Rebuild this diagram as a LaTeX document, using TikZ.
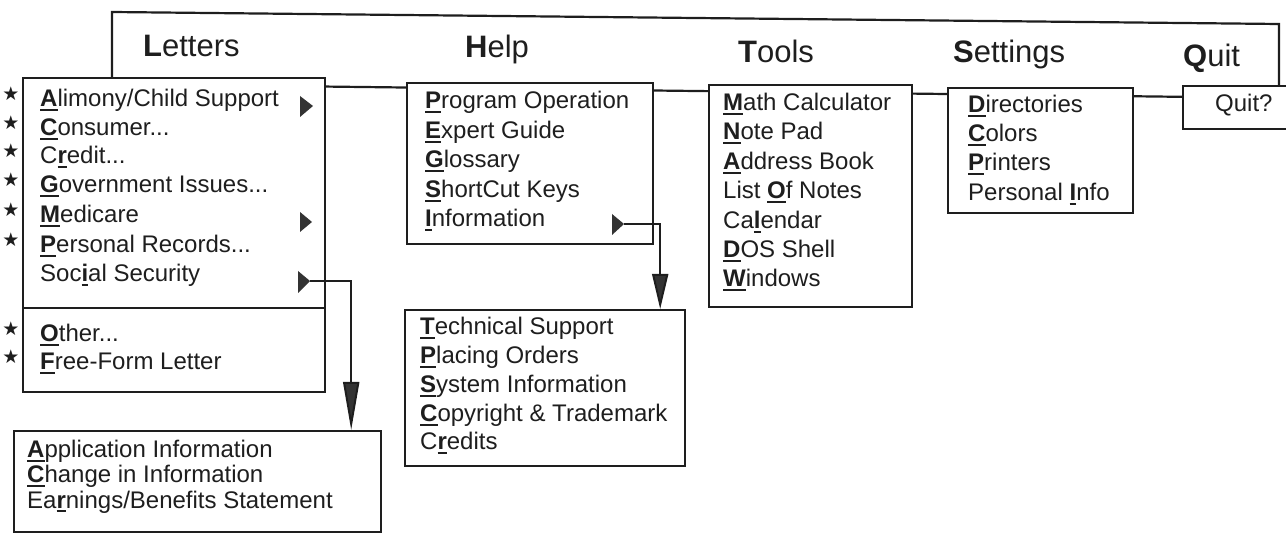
\documentclass[tikz,border=0pt]{standalone}
\usepackage{fontspec}
\setmainfont{Liberation Sans}
\newfontfamily\symfont{DejaVu Sans}
\usetikzlibrary{arrows.meta}
\definecolor{ink}{HTML}{1E1E1E}
\definecolor{mark}{HTML}{333333}
\newcommand\acck[1]{\setbox0\hbox{\textbf{#1}}\rlap{\rule[-4pt]{\wd0}{1.8pt}}\box0}
\tikzset{
  menubox/.style={draw=ink, line width=2.2pt, fill=white, inner sep=0pt, anchor=north west},
  item/.style={anchor=base west, inner sep=0pt, text=ink, font=\fontsize{24}{24}\selectfont},
  hdr/.style={anchor=base west, inner sep=0pt, text=ink, font=\fontsize{31}{31}\selectfont},
  starmark/.style={inner sep=0pt, text=ink, font=\symfont\fontsize{19}{19}\selectfont},
  submark/.style={fill=mark},
  conn/.style={draw=ink, line width=2pt, -{Triangle[length=48pt,width=16pt,fill=mark]}},
  conn2/.style={draw=ink, line width=2pt, -{Triangle[length=35pt,width=16pt,fill=mark]}},
}
\begin{document}
\begin{tikzpicture}[x=1pt,y=-1pt]
\useasboundingbox (0,0) rectangle (1286,534);
% menu bar
\draw[ink, line width=2.2pt, line join=miter] (112,84) -- (112,12) -- (1279,24) -- (1279,98) -- cycle;
\node[hdr] (hL) at (143,57) {\textbf{L}etters};
\node[hdr] (hH) at (465,58) {\textbf{H}elp};
\node[hdr] (hT) at (738,63) {\textbf{T}ools};
\node[hdr] (hS) at (953,63) {\textbf{S}ettings};
\node[hdr] (hQ) at (1183,67) {\textbf{Q}uit};
% Letters menu
\node[menubox, minimum width=302pt, minimum height=314pt] (letters) at (22,77) {};
\draw[ink, line width=2.6pt] (22,308) -- (324,308);
\node[item] (l1) at (40,107) {\acck{A}limony/Child Support};
\node[item] (l2) at (40,136) {\acck{C}onsumer...};
\node[item] (l3) at (40,164) {C\acck{r}edit...};
\node[item] (l4) at (40,193) {\acck{G}overnment Issues...};
\node[item] (l5) at (40,223) {\acck{M}edicare};
\node[item] (l6) at (40,253) {\acck{P}ersonal Records...};
\node[item] (l7) at (40,282) {Soc\acck{i}al Security};
\node[item] (l8) at (40,342) {\acck{O}ther...};
\node[item] (l9) at (40,370) {\acck{F}ree-Form Letter};
\foreach \b/\n in {107/1,136/2,164/3,193/4,223/5,253/6,342/8,370/9}
  \node[starmark] (s\n) at (11,\b-13) {★};
\fill[submark] (300,96) -- (313,106) -- (300,117) -- cycle;
\fill[submark] (300,212) -- (312,222) -- (300,232) -- cycle;
\fill[submark] (298,271) -- (310,281) -- (298,293) -- cycle;
\coordinate (sstip) at (310,281);
% Social Security submenu
\node[menubox, minimum width=367pt, minimum height=101pt] (ssbox) at (13,430) {};
\node[item] (a1) at (27,458) {\acck{A}pplication Information};
\node[item] (a2) at (27,483) {\acck{C}hange in Information};
\node[item] (a3) at (27,508) {Ea\acck{r}nings/Benefits Statement};
\draw[conn] (sstip) -| ([xshift=-31pt]ssbox.north east);
% Help menu
\node[menubox, minimum width=246pt, minimum height=161pt] (help) at (406,82) {};
\node[item] (h1) at (425,109) {\acck{P}rogram Operation};
\node[item] (h2) at (425,139) {\acck{E}xpert Guide};
\node[item] (h3) at (425,168) {\acck{G}lossary};
\node[item] (h4) at (425,198) {\acck{S}hortCut Keys};
\node[item] (h5) at (425,227) {\acck{I}nformation};
\fill[submark] (612,214) -- (624,224) -- (612,235) -- cycle;
\coordinate (infotip) at (624,224);
% Information submenu
\node[menubox, minimum width=280pt, minimum height=156pt] (infobox) at (404,309) {};
\node[item] (i1) at (420,335) {\acck{T}echnical Support};
\node[item] (i2) at (420,364) {\acck{P}lacing Orders};
\node[item] (i3) at (420,393) {\acck{S}ystem Information};
\node[item] (i4) at (420,422) {\acck{C}opyright \& Trademark};
\node[item] (i5) at (420,450) {C\acck{r}edits};
\draw[conn2] (infotip) -| ([xshift=-26pt]infobox.north east);
% Tools menu
\node[menubox, minimum width=203pt, minimum height=222pt] (tools) at (708,84) {};
\node[item] (t1) at (723,111) {\acck{M}ath Calculator};
\node[item] (t2) at (723,140) {\acck{N}ote Pad};
\node[item] (t3) at (723,170) {\acck{A}ddress Book};
\node[item] (t4) at (723,199) {List \acck{O}f Notes};
\node[item] (t5) at (723,229) {Ca\acck{l}endar};
\node[item] (t6) at (723,258) {\acck{D}OS Shell};
\node[item] (t7) at (723,287) {\acck{W}indows};
% Settings menu
\node[menubox, minimum width=185pt, minimum height=125pt] (settings) at (947,87) {};
\node[item] (g1) at (968,113) {\acck{D}irectories};
\node[item] (g2) at (968,142) {\acck{C}olors};
\node[item] (g3) at (968,171) {\acck{P}rinters};
\node[item] (g4) at (968,201) {Personal \acck{I}nfo};
% Quit menu
\node[menubox, minimum width=115pt, minimum height=43pt] (quit) at (1182,85) {};
\node[item] (q1) at (1215,112) {Quit?};
\end{tikzpicture}
\end{document}
